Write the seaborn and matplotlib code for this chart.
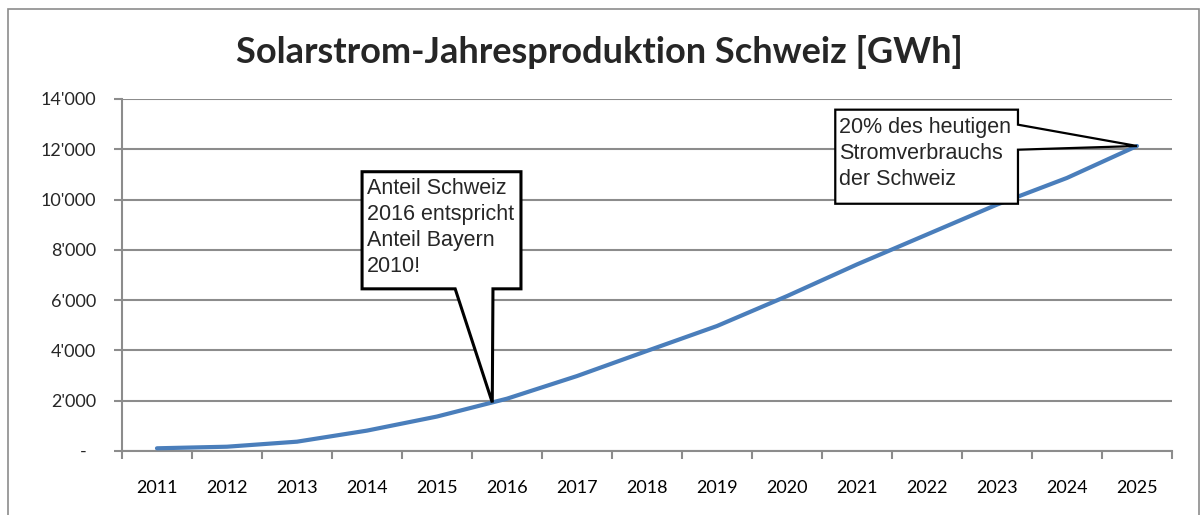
import numpy as np
import matplotlib
matplotlib.use("Agg")
import matplotlib.pyplot as plt
from matplotlib.patches import Polygon, Rectangle
import seaborn as sns

# data
years = [2011, 2012, 2013, 2014, 2015, 2016, 2017, 2018,
         2019, 2020, 2021, 2022, 2023, 2024, 2025]
gwh = [107, 170, 370, 810, 1370, 2080, 2980, 3980,
       4970, 6160, 7420, 8610, 9800, 10860, 12130]
ytick_vals = [0, 2000, 4000, 6000, 8000, 10000, 12000, 14000]
ytick_labels = ["-  ", "2'000", "4'000", "6'000", "8'000", "10'000", "12'000", "14'000"]

title = "Solarstrom-Jahresproduktion Schweiz [GWh]"
note_2016 = "Anteil Schweiz\n2016 entspricht\nAnteil Bayern\n2010!"
note_2025 = "20% des heutigen\nStromverbrauchs\nder Schweiz"

sns.set_style("white")
plt.rcParams["font.family"] = ["Lato", "DejaVu Sans"]

grey = "#8c8c8c"
blue = "#4a7ebb"
arial = ["Liberation Sans", "DejaVu Sans"]

fig = plt.figure(figsize=(12.04, 5.15), dpi=100)
ax = fig.add_axes([0.1013, 0.1243, 0.9734 - 0.1013, 0.8078 - 0.1243])

sns.lineplot(x=years, y=gwh, color=blue, linewidth=3.0, ax=ax, zorder=3)

ax.set_xlim(years[0] - 0.5, years[-1] + 0.5)
ax.set_ylim(0, 14000)
ax.set_xlabel("")
ax.set_ylabel("")

# x axis: labels in the middle, ticks between categories
ax.set_xticks(years)
ax.set_xticklabels([str(y) for y in years], fontsize=13)
ax.set_xticks(np.arange(years[0] - 0.5, years[-1] + 1), minor=True)
ax.tick_params(axis="x", which="major", length=0, pad=21, colors="black")
ax.tick_params(axis="x", which="minor", length=5.8, width=1.5, color=grey,
               direction="out", bottom=True)

ax.set_yticks(ytick_vals)
ax.set_yticklabels(ytick_labels, fontsize=13)
ax.tick_params(axis="y", which="major", length=5.8, width=1.5, color=grey,
               direction="out", left=True, pad=13)

ax.grid(axis="y", color=grey, linewidth=1.5)
ax.grid(axis="x", visible=False)
ax.set_axisbelow(True)
for s in ["top", "right"]:
    ax.spines[s].set_visible(False)
for s in ["left", "bottom"]:
    ax.spines[s].set_color(grey)
    ax.spines[s].set_linewidth(1.5)

# callout 1 - points at the line just before 2016
tip1_x = 2016 - 0.21
tip1_y = np.interp(tip1_x, years, gwh)
bx0, bx1, by_top, by_bot = 2013.93, 2016.2, 11107, 6449
shape1 = [(bx0, by_top), (bx1, by_top), (bx1, by_bot), (2015.8, by_bot),
          (tip1_x, tip1_y), (2015.26, by_bot), (bx0, by_bot)]
ax.add_patch(Polygon(shape1, closed=True, facecolor="white", edgecolor="black",
                     linewidth=2.2, zorder=5, clip_on=False))
ax.text(bx0 + 0.07, by_top - 260, note_2016, ha="left", va="top", fontsize=15.5,
        family=arial, linespacing=1.3, zorder=6)

# callout 2 - points at 2025
tip2_x, tip2_y = years[-1], gwh[-1]
cx0, cx1, cy_top, cy_bot = 2020.69, 2023.3, 13575, 9833
shape2 = [(cx0, cy_top), (cx1, cy_top), (cx1, 12978), (tip2_x, tip2_y),
          (cx1, 11983), (cx1, cy_bot), (cx0, cy_bot)]
ax.add_patch(Polygon(shape2, closed=True, facecolor="white", edgecolor="black",
                     linewidth=1.6, zorder=5, clip_on=False))
ax.text(cx0 + 0.05, cy_top - 300, note_2025, ha="left", va="top", fontsize=15.5,
        family=arial, linespacing=1.3, zorder=6)

fig.text(0.498, 1 - 63 / 515, title, ha="center", va="baseline",
         fontsize=26, fontweight="bold")

# chart frame
fig.add_artist(Rectangle((8 / 1204, -0.05), (1199 - 8) / 1204, 1 - 9 / 515 + 0.05,
                         transform=fig.transFigure, fill=False,
                         edgecolor=grey, linewidth=1.2))

fig.savefig("out.png", dpi=100)
